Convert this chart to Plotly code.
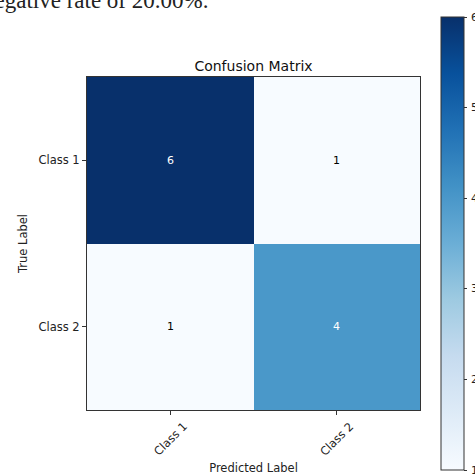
import plotly.graph_objects as go

# Confusion matrix data
classes = ["Class 1", "Class 2"]
counts = [[6, 1],
          [1, 4]]
cbar_ticks = [1, 2, 3, 4, 5, 6]

# matplotlib-style "Blues" colour ramp
blues = ["#f7fbff", "#deebf7", "#c6dbef", "#9ecae1", "#6baed6",
         "#4292c6", "#2171b5", "#08519c", "#08306b"]
colorscale = [[i / (len(blues) - 1), c] for i, c in enumerate(blues)]

zmin = min(min(r) for r in counts)
zmax = max(max(r) for r in counts)
thresh = (zmin + zmax) / 2

W, H = 475, 475
L, R, T, B = 87, 0, 77, 65
pw = W - L - R
ph = H - T - B
SQ = 333  # side of the square matrix area in pixels

def px_x(p):
    return (p - L) / pw

def px_y(p):
    return (H - B - p) / ph

# colour bar geometry (pixels)
CB_LEFT, CB_W, CB_TOP, CB_BOT = 441, 23, 17, 470

fig = go.Figure(go.Heatmap(
    z=counts, x=classes, y=classes,
    colorscale=colorscale, zmin=zmin, zmax=zmax,
    colorbar=dict(
        x=px_x(CB_LEFT), xanchor="left", xpad=0,
        y=px_y((CB_TOP + CB_BOT) / 2), yanchor="middle", ypad=0,
        len=CB_BOT - CB_TOP, lenmode="pixels",
        thickness=CB_W, thicknessmode="pixels",
        outlinewidth=1, outlinecolor="#333333",
        tickvals=cbar_ticks, ticks="outside", ticklen=3,
        tickcolor="#333333", showticklabels=False,
    ),
    hoverinfo="skip",
))

# Colour bar tick labels
for v in cbar_ticks:
    frac = (v - zmin) / (zmax - zmin)
    ypix = CB_BOT - frac * (CB_BOT - CB_TOP)
    fig.add_annotation(
        xref="paper", yref="paper", x=px_x(CB_LEFT + CB_W + 5), y=px_y(ypix),
        xanchor="left", yanchor="middle", text=str(v), showarrow=False,
        font=dict(family="DejaVu Sans", size=11, color="#222222"),
    )

# Count annotations in each cell
for i, row in enumerate(counts):
    for j, v in enumerate(row):
        fig.add_annotation(
            x=classes[j], y=classes[i], text=str(v), showarrow=False,
            font=dict(family="DejaVu Sans", size=11,
                      color="white" if v > thresh else "black"),
        )

# Rotated x tick labels, centred under their ticks
for c in classes:
    fig.add_annotation(
        x=c, xref="x", yref="paper", y=px_y(439),
        xanchor="center", yanchor="middle", textangle=-45,
        text=c, showarrow=False,
        font=dict(family="DejaVu Sans", size=11.5, color="#222222"),
    )

# Trailing line of the surrounding report text
fig.add_annotation(
    xref="paper", yref="paper",
    x=px_x(210), y=px_y(15), xanchor="right", yanchor="bottom",
    text="negative rate of 20.00%.", showarrow=False,
    font=dict(family="Liberation Serif", size=23, color="#222222"),
)

fig.update_layout(
    width=W, height=H,
    margin=dict(l=L, r=R, t=T, b=B, pad=0, autoexpand=False),
    paper_bgcolor="white", plot_bgcolor="white",
    title=dict(text="Confusion Matrix", x=(L + SQ / 2) / W, xanchor="center",
               y=1 - 66 / H, yanchor="middle",
               font=dict(family="DejaVu Sans", size=14, color="#111111")),
    font=dict(family="DejaVu Sans", color="#222222"),
)

fig.update_xaxes(
    domain=[0, SQ / pw], automargin=False,
    title=dict(text="Predicted Label", standoff=49,
               font=dict(family="DejaVu Sans", size=11.5)),
    showticklabels=False, ticks="outside", ticklen=4, tickcolor="#333333",
    showline=True, linecolor="#333333", linewidth=1, mirror=True,
    showgrid=False, zeroline=False,
)
fig.update_yaxes(
    domain=[0, 1], automargin=False,
    title=dict(text="True Label", standoff=8,
               font=dict(family="DejaVu Sans", size=11.5)),
    autorange="reversed", ticks="outside", ticklen=4, tickcolor="#333333",
    tickfont=dict(family="DejaVu Sans", size=11.5),
    showline=True, linecolor="#333333", linewidth=1, mirror=True,
    showgrid=False, zeroline=False,
)

fig.write_html("out.html")
